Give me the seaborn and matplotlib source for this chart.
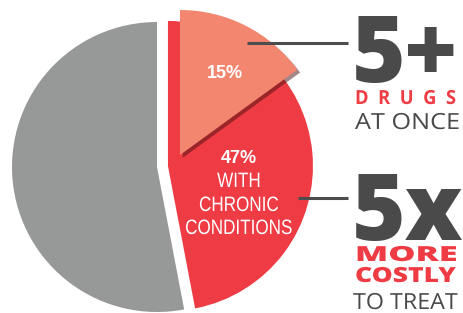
import matplotlib
matplotlib.use("Agg")
import matplotlib.pyplot as plt
import matplotlib.patheffects as pe
from matplotlib.transforms import Affine2D
import seaborn as sns

# Data
shares = [53, 47]               # rest vs. with chronic conditions
drug_share = [15, 85]           # 5+ drugs at once (part of the 47%)
drug_label = "15%"
chronic_label = "47%"
chronic_lines = ["WITH", "CHRONIC", "CONDITIONS"]
colors = ["#979898", "#ee3b44"]
drug_color = "#f3866f"
stat_big = ["5+", "5x"]
stat_red = ["D  R  U  G  S", "MORE", "COSTLY"]
stat_grey = ["AT ONCE", "TO TREAT"]

sns.set_theme(style="white")
plt.rcParams["font.family"] = ["Liberation Sans", "DejaVu Sans"]

W, H = 463, 313
fig = plt.figure(figsize=(W / 100, H / 100), dpi=100)
ax = fig.add_axes([0, 0, 1, 1])


class Stretch(pe.AbstractPathEffect):
    """Scale glyphs horizontally around a fixed x (data units)."""
    def __init__(self, sx, x0):
        super().__init__()
        self.sx = sx
        self.x0 = x0

    def draw_path(self, renderer, gc, tpath, affine, rgbFace=None):
        px = ax.transData.transform((self.x0, 0))[0]
        affine = affine + Affine2D().translate(-px, 0).scale(self.sx, 1).translate(px, 0)
        renderer.draw_path(gc, tpath, affine, rgbFace)


R = 145
# main pie: grey + red (red pulled out a little)
ax.pie(shares, colors=colors, startangle=90, radius=R, center=(157, H - 167),
       explode=[0, 11], wedgeprops=dict(linewidth=0))

# highlighted 15% wedge, pulled further out, with shadow
wedges, _ = ax.pie(drug_share, colors=[drug_color, "none"], startangle=90,
                   counterclock=False, radius=R, center=(180, H - 155),
                   wedgeprops=dict(linewidth=0))
wedges[0].set_path_effects([pe.SimplePatchShadow(offset=(2, -2), alpha=0.5,
                                                 shadow_rgbFace="#4a1010"),
                            pe.Normal()])

ax.set_xlim(0, W)
ax.set_ylim(0, H)
ax.set_aspect("equal")
ax.axis("off")

# labels inside the pie
ax.text(225, H - 78, drug_label, color="white", fontsize=13, fontweight="bold",
        ha="center", va="baseline")
ax.text(239, H - 163, chronic_label, color="white", fontsize=13, fontweight="bold",
        ha="center", va="baseline")
for txt, base in zip(chronic_lines, [187, 211, 234]):
    ax.text(239, H - base, txt, color="white", fontsize=15, ha="center", va="baseline",
            path_effects=[Stretch(0.82, 239)])

# connector lines
ax.plot([247, 348], [H - 43, H - 43], color="#4d4d4d", lw=2.2, solid_capstyle="butt")
ax.plot([298, 348], [H - 198, H - 198], color="#4d4d4d", lw=2.2, solid_capstyle="butt")

# right-hand stats
dark = "#4a4a4a"
red = "#ee3b44"
osans = ["Open Sans", "DejaVu Sans"]
big = dict(family=osans, fontweight="heavy", color=dark, fontsize=66,
           ha="left", va="baseline")
ax.text(352, H - 82, stat_big[0], **big)
ax.text(352, H - 240, stat_big[1], **big)

fitted = []
fitted.append((ax.text(355, H - 104, stat_red[0], family=osans, fontweight="bold",
                       color=red, fontsize=14, ha="left", va="baseline"), 102))
fitted.append((ax.text(355, H - 129, stat_grey[0], family=osans, color=dark,
                       fontsize=16, ha="left", va="baseline"), 105))
fitted.append((ax.text(355, H - 261, stat_red[1], family=osans, fontweight="heavy",
                       color=red, fontsize=15, ha="left", va="baseline"), 103))
fitted.append((ax.text(355, H - 282, stat_red[2], family=osans, fontweight="heavy",
                       color=red, fontsize=15, ha="left", va="baseline"), 101))
fitted.append((ax.text(353, H - 309, stat_grey[1], family=osans, color=dark,
                       fontsize=16, ha="left", va="baseline"), 105))

# stretch the small captions so they span the same width as the big numbers
fig.canvas.draw()
for t, target in fitted:
    w = t.get_window_extent().width
    t.set_path_effects([Stretch(target / w, t.get_position()[0])])

fig.savefig("out.png", dpi=100, facecolor="white")
